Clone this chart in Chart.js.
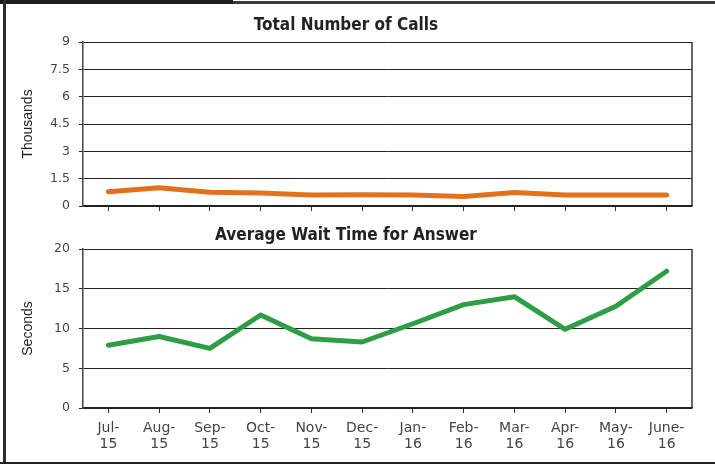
<!DOCTYPE html>
<html>
<head>
<meta charset="utf-8">
<script src="https://cdn.jsdelivr.net/npm/chart.js@4/dist/chart.umd.min.js"></script>
<style>
  html, body { margin: 0; padding: 0; background: #fff; }
  #wrap { position: relative; width: 715px; height: 464px; overflow: hidden; background: #fff; }
  .cv { position: absolute; left: 0; }
  #topbar { position: absolute; left: 0; top: 0; width: 233px; height: 4px; background: #1e1e1e; }
  #topline { position: absolute; left: 0; top: 1px; width: 715px; height: 3px; background: #3a3a3a; }
  #leftline { position: absolute; left: 3px; top: 0; width: 3px; height: 464px; background: #2e2e2e; }
  #bottomline { position: absolute; left: 0; top: 462px; width: 715px; height: 2px; background: #222; }
</style>
</head>
<body>
<div id="wrap">
  <canvas id="c2" class="cv" width="715" height="249" style="top:215px"></canvas>
  <canvas id="c1" class="cv" width="715" height="224" style="top:0px"></canvas>
  <div id="topline"></div>
  <div id="topbar"></div>
  <div id="leftline"></div>
  <div id="bottomline"></div>
</div>
<script>
const categories = ['Jul-15','Aug-15','Sep-15','Oct-15','Nov-15','Dec-15','Jan-16','Feb-16','Mar-16','Apr-16','May-16','June-16'];
const totalCallsThousands = [0.78, 1.0, 0.75, 0.72, 0.6, 0.62, 0.6, 0.52, 0.74, 0.6, 0.6, 0.6];
const avgWaitSeconds = [7.9, 9.0, 7.5, 11.7, 8.7, 8.3, 10.6, 13.0, 14.0, 9.9, 12.8, 17.2];
const callsTicks = [0, 1.5, 3, 4.5, 6, 7.5, 9];
const waitTicks = [0, 5, 10, 15, 20];

const labelLines = categories.map(c => { const i = c.indexOf('-'); return [c.slice(0, i + 1), c.slice(i + 1)]; });

const rightBorder = {
  id: 'rightBorder',
  afterDraw(chart) {
    const {ctx, chartArea: a} = chart;
    ctx.save();
    ctx.strokeStyle = '#333';
    ctx.lineWidth = 1.5;
    ctx.beginPath();
    ctx.moveTo(a.right, a.top);
    ctx.lineTo(a.right, a.bottom);
    ctx.stroke();
    ctx.restore();
  }
};

const titleFont = { family: "'Liberation Sans Narrow', 'DejaVu Sans Condensed', sans-serif", size: 17, weight: 'bold', lineHeight: 1.2 };

function makeChart(id, opts) {
  return new Chart(document.getElementById(id), {
    type: 'line',
    data: {
      labels: opts.showLabels ? labelLines : categories,
      datasets: [{
        data: opts.data,
        borderColor: opts.color,
        backgroundColor: opts.color,
        borderWidth: 5,
        pointRadius: 0,
        tension: 0,
        borderCapStyle: 'round',
        borderJoinStyle: 'round',
        fill: false
      }]
    },
    options: {
      responsive: false,
      animation: false,
      devicePixelRatio: 1,
      layout: { padding: { left: 0, right: 23, top: 0, bottom: 0 } },
      plugins: {
        legend: { display: false },
        tooltip: { enabled: false },
        title: {
          display: true,
          text: opts.title,
          color: '#222',
          font: titleFont,
          padding: opts.titlePadding
        }
      },
      scales: {
        x: {
          offset: true,
          grid: { display: true, drawOnChartArea: false, drawTicks: true, tickLength: 5, offset: false, color: '#333', lineWidth: 1 },
          border: { display: true, color: '#222', width: 1.5 },
          ticks: {
            display: opts.showLabels,
            autoSkip: false,
            maxRotation: 0,
            minRotation: 0,
            padding: 7,
            color: '#444',
            font: { family: "'DejaVu Sans', sans-serif", size: 14, lineHeight: 1.15 }
          },
          afterFit(scale) { scale.height = opts.xHeight; }
        },
        y: {
          min: opts.ticks[0],
          max: opts.ticks[opts.ticks.length - 1],
          afterBuildTicks(scale) { scale.ticks = opts.ticks.map(v => ({ value: v })); },
          grid: { color: '#222', lineWidth: 1, drawTicks: true, tickLength: 4 },
          border: { display: true, color: '#444', width: 1.5 },
          ticks: {
            padding: 9,
            color: '#444',
            font: { family: "'DejaVu Sans', sans-serif", size: 12.5 }
          },
          title: {
            display: true,
            text: opts.yTitle,
            color: '#222',
            font: { family: "'Liberation Sans', Arial, sans-serif", size: 14, lineHeight: 1.2 },
            padding: { top: 20, bottom: 0 }
          },
          afterFit(scale) { scale.width = 83; }
        }
      }
    },
    plugins: [rightBorder]
  });
}

makeChart('c1', {
  data: totalCallsThousands,
  color: '#E2711D',
  title: 'Total Number of Calls',
  titlePadding: { top: 15, bottom: 6.6 },
  yTitle: 'Thousands',
  ticks: callsTicks,
  showLabels: false,
  xHeight: 18
});

makeChart('c2', {
  data: avgWaitSeconds,
  color: '#2E9E44',
  title: 'Average Wait Time for Answer',
  titlePadding: { top: 10, bottom: 3.6 },
  yTitle: 'Seconds',
  ticks: waitTicks,
  showLabels: true,
  xHeight: 56
});
</script>
</body>
</html>
